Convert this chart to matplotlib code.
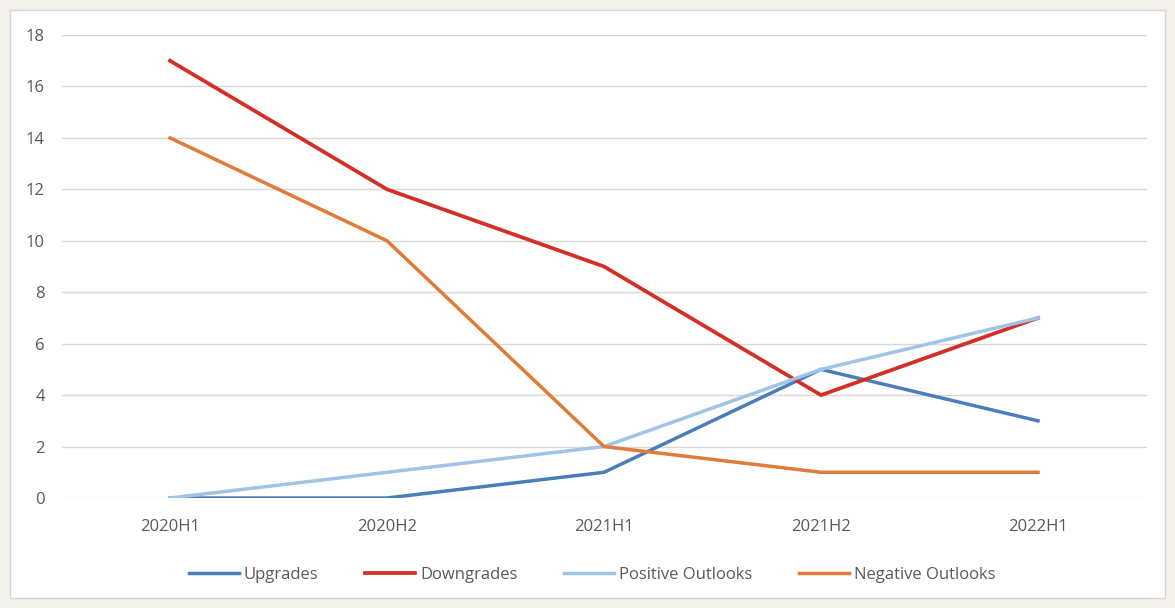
import matplotlib.pyplot as plt
from matplotlib.patches import Rectangle

periods = ["2020H1", "2020H2", "2021H1", "2021H2", "2022H1"]
upgrades = [0, 0, 1, 5, 3]
downgrades = [17, 12, 9, 4, 7]
positive_outlooks = [0, 1, 2, 5, 7]
negative_outlooks = [14, 10, 2, 1, 1]

plt.rcParams["font.family"] = ["Open Sans", "DejaVu Sans"]

fig = plt.figure(figsize=(11.75, 6.08), dpi=100)
fig.patch.set_facecolor("#f3f1ec")

# white chart panel with thin border, behind the axes
panel = Rectangle((10 / 1175, 10 / 608), 1155 / 1175, 588 / 608,
                  transform=fig.transFigure, facecolor="white",
                  edgecolor="#d9d6d0", linewidth=1, zorder=-10)
fig.patches.append(panel)

ax = fig.add_axes([61.5 / 1175, 110 / 608, 1085 / 1175, 463 / 608])
ax.set_facecolor("none")

x = list(range(len(periods)))
ax.plot(x, upgrades, color="#4a7ebb", lw=2.5, label="Upgrades")
ax.plot(x, downgrades, color="#d42e26", lw=2.7, label="Downgrades")
ax.plot(x, positive_outlooks, color="#a0c4e8", lw=2.5, label="Positive Outlooks")
ax.plot(x, negative_outlooks, color="#e07b39", lw=2.5, label="Negative Outlooks")

ax.set_xlim(-0.5, len(periods) - 0.5)
ax.set_ylim(0, 18)
ax.set_yticks(range(0, 19, 2))
ax.set_xticks(x)
ax.set_xticklabels(periods)
ax.grid(axis="y", color="#dbd7d3", linewidth=1)
ax.set_axisbelow(True)
for s in ax.spines.values():
    s.set_visible(False)
ax.tick_params(length=0, colors="#595959", labelsize=12)
ax.tick_params(axis="y", pad=12)
ax.tick_params(axis="x", pad=15)

fig.legend(loc="center", bbox_to_anchor=(592 / 1175, 1 - 575 / 608), ncol=4,
           frameon=False, fontsize=12, labelcolor="#595959",
           handlelength=3.0, handletextpad=0.3, columnspacing=2.8)

fig.savefig("out.png", dpi=100, facecolor=fig.get_facecolor())
